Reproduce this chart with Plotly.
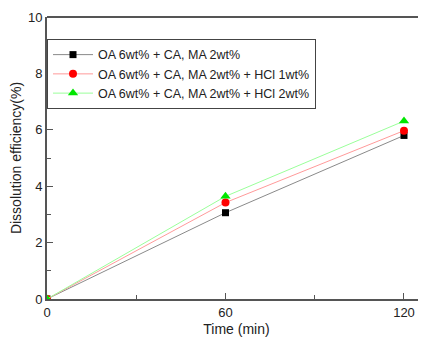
import plotly.graph_objects as go

time_min = [0, 60, 120]
names = ["OA 6wt% + CA, MA 2wt%",
         "OA 6wt% + CA, MA 2wt% + HCl 1wt%",
         "OA 6wt% + CA, MA 2wt% + HCl 2wt%"]
eff_base = [0, 3.06, 5.80]
eff_hcl1 = [0, 3.42, 5.97]
eff_hcl2 = [0, 3.64, 6.31]

series = [eff_base, eff_hcl1, eff_hcl2]
line_colors = ["#8a8a8a", "#ff9a9a", "#9aff9a"]
marker_colors = ["#000000", "#ff0000", "#00e600"]
symbols = ["square", "circle", "triangle-up"]
sizes = [7, 8, 9]

fig = go.Figure()
for name, ys, lc, mc, sym, sz in zip(names, series, line_colors, marker_colors, symbols, sizes):
    fig.add_trace(go.Scatter(
        x=time_min, y=ys, name=name, mode="lines+markers",
        line=dict(color=lc, width=1),
        marker=dict(color=mc, symbol=sym, size=sz, line=dict(width=0)),
    ))

axis_common = dict(
    showline=True, linecolor="#555555", linewidth=2,
    ticks="inside", tickcolor="#555555", ticklen=6, tickwidth=1,
    showgrid=False, zeroline=False, automargin=False,
    tickfont=dict(family="Liberation Sans, Arial", size=13, color="#222222"),
)

fig.update_layout(
    width=418, height=332,
    margin=dict(l=39, r=0, t=9, b=41),
    paper_bgcolor="white", plot_bgcolor="white",
    font=dict(family="Liberation Sans, Arial", color="#222222"),
    xaxis=dict(range=[0, 127.4], tickvals=[0, 60, 120],
               minor=dict(ticks="inside", ticklen=4, tickcolor="#555555", dtick=30, tick0=0),
               title=dict(text="Time (min)", font=dict(size=14), standoff=6),
               **axis_common),
    yaxis=dict(range=[0, 10], tickvals=[0, 2, 4, 6, 8, 10],
               minor=dict(ticks="inside", ticklen=4, tickcolor="#555555", dtick=1, tick0=0),
               title=dict(text="Dissolution efficiency(%)", font=dict(size=14), standoff=14),
               **axis_common),
    legend=dict(x=0, y=0.922, xanchor="left", yanchor="top",
                bgcolor="white", bordercolor="#444444", borderwidth=1,
                font=dict(size=12.5, color="#222222"),
                itemwidth=40, tracegroupgap=0),
    showlegend=True,
    shapes=[dict(type="line", xref="paper", yref="paper", x0=0, x1=1, y0=1, y1=1,
                 line=dict(color="#555555", width=2))],
)

fig.write_html("out.html")
